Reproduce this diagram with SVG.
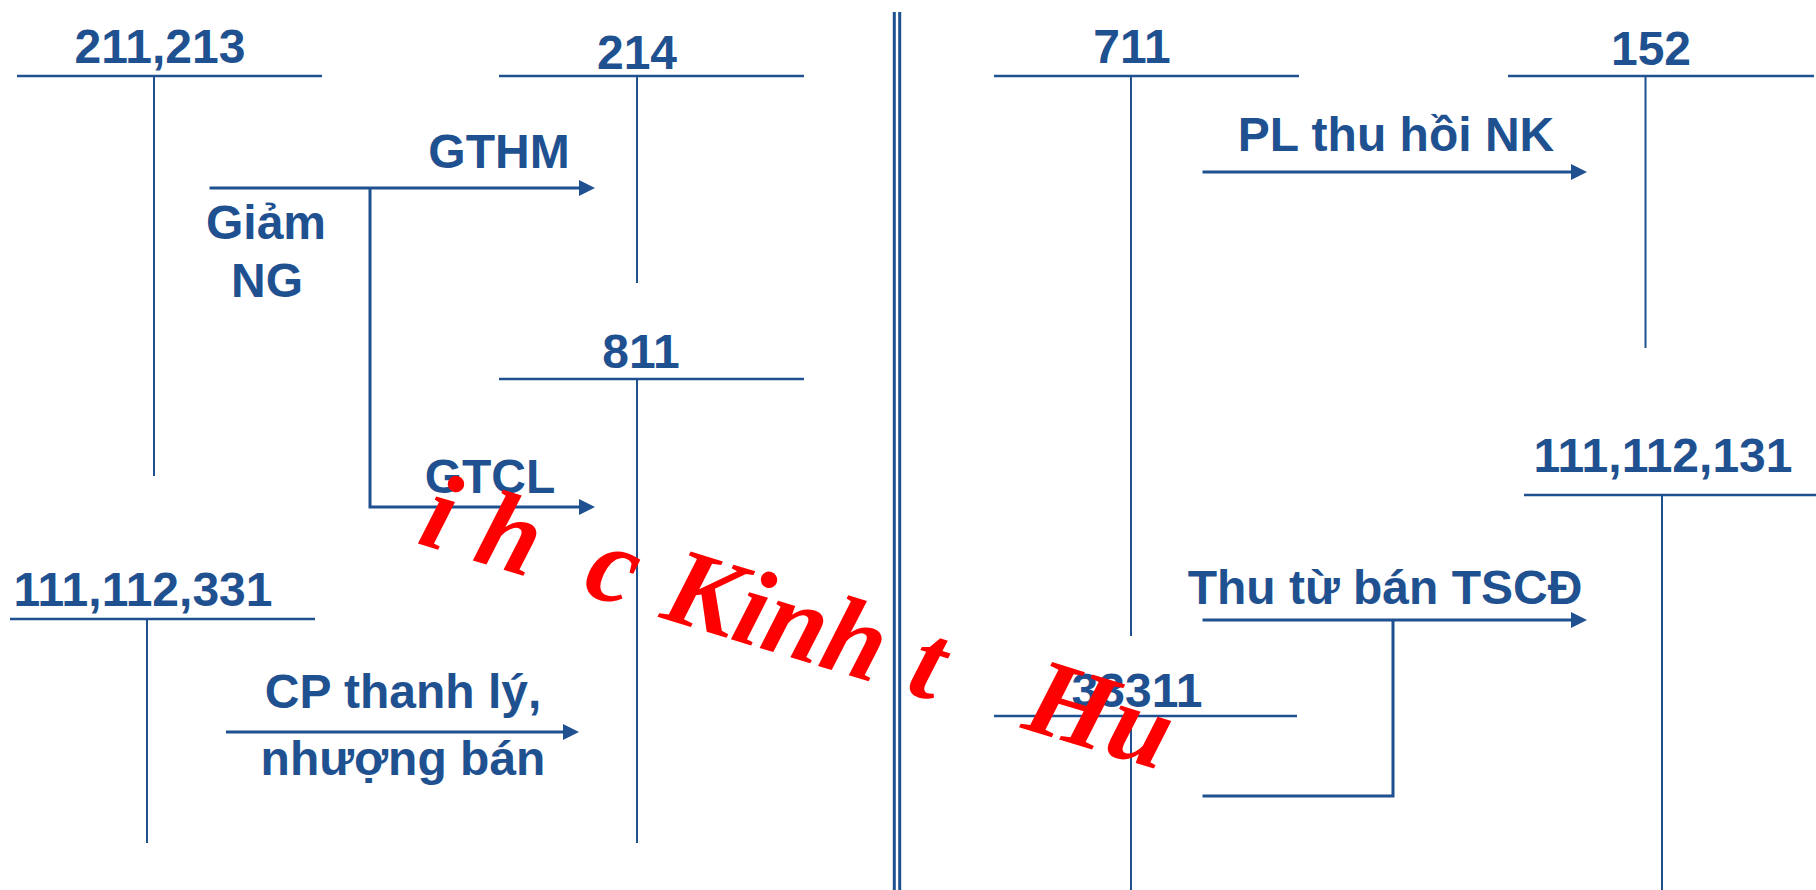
<svg xmlns="http://www.w3.org/2000/svg" width="1816" height="890" viewBox="0 0 1816 890">
<defs>
<style>
.lbl{font-family:"Liberation Sans",Arial,sans-serif;font-weight:bold;font-size:48px;fill:#1F5190;text-anchor:middle}
.hdr{stroke:#1F5190;stroke-width:2.5;fill:none}
.stem{stroke:#1F5190;stroke-width:2;fill:none}
.con{stroke:#1F5190;stroke-width:3;fill:none}
.arr{marker-end:url(#ah)}
.wm{font-family:"Liberation Serif","Times New Roman",serif;font-weight:bold;font-style:italic;font-size:110px;fill:#FF0000}
</style>
<marker id="ah" markerUnits="userSpaceOnUse" markerWidth="16" markerHeight="16" refX="8" refY="8" orient="auto">
<path d="M0,0 L16,8 L0,16 z" fill="#1F5190"/>
</marker>
</defs>
<rect width="1816" height="890" fill="#fff"/>

<g id="divider">
<line class="con" x1="894.3" y1="12" x2="894.3" y2="890"/>
<line class="con" x1="899.7" y1="12" x2="899.7" y2="890"/>
</g>

<g id="acc-211-213">
<text class="lbl" x="160" y="63">211,213</text>
<line class="hdr" x1="17" y1="76" x2="322" y2="76"/>
<line class="stem" x1="154" y1="76" x2="154" y2="476"/>
</g>
<g id="acc-214">
<text class="lbl" x="637" y="69">214</text>
<line class="hdr" x1="499" y1="76" x2="804" y2="76"/>
<line class="stem" x1="637" y1="76" x2="637" y2="283"/>
</g>
<g id="acc-811">
<text class="lbl" x="641" y="368">811</text>
<line class="hdr" x1="499" y1="379" x2="804" y2="379"/>
<line class="stem" x1="637" y1="379" x2="637" y2="843"/>
</g>
<g id="acc-111-112-331">
<text class="lbl" x="143" y="606">111,112,331</text>
<line class="hdr" x1="10" y1="619" x2="315" y2="619"/>
<line class="stem" x1="147" y1="619" x2="147" y2="843"/>
</g>
<g id="acc-711">
<text class="lbl" x="1132" y="63">711</text>
<line class="hdr" x1="994" y1="76" x2="1299" y2="76"/>
<line class="stem" x1="1131" y1="76" x2="1131" y2="636"/>
</g>
<g id="acc-152">
<text class="lbl" x="1651" y="65">152</text>
<line class="hdr" x1="1508" y1="76" x2="1814" y2="76"/>
<line class="stem" x1="1645.5" y1="76" x2="1645.5" y2="348"/>
</g>
<g id="acc-111-112-131">
<text class="lbl" x="1663" y="472">111,112,131</text>
<line class="hdr" x1="1524" y1="495" x2="1816" y2="495"/>
<line class="stem" x1="1662" y1="495" x2="1662" y2="890"/>
</g>
<g id="acc-33311">
<text class="lbl" x="1137" y="707">33311</text>
<line class="hdr" x1="994" y1="716" x2="1297" y2="716"/>
<line class="stem" x1="1131" y1="716" x2="1131" y2="890"/>
</g>

<g id="connectors">
<path class="con arr" d="M209.5,188 H587"/>
<path class="con arr" d="M370,188 V507 H587"/>
<path class="con arr" d="M226,732 H571"/>
<path class="con arr" d="M1202.5,172 H1579"/>
<path class="con arr" d="M1202.5,620 H1579"/>
<path class="con" d="M1202.5,796 H1393 V620"/>
</g>

<g id="labels">
<text class="lbl" x="499" y="168">GTHM</text>
<text class="lbl" x="266" y="239">Giảm</text>
<text class="lbl" x="267" y="297">NG</text>
<text class="lbl" x="490" y="493">GTCL</text>
<text class="lbl" x="403" y="708">CP thanh lý,</text>
<text class="lbl" x="403" y="775">nhượng bán</text>
<text class="lbl" x="1396" y="151">PL thu hồi NK</text>
<text class="lbl" x="1385" y="604">Thu từ bán TSCĐ</text>
</g>

<g id="watermark" transform="translate(400,538) rotate(17)">
<text class="wm" y="0"><tspan x="16">i</tspan><tspan x="74">h</tspan><tspan x="189">c</tspan><tspan x="270">Kinh</tspan><tspan x="527">t</tspan><tspan x="648">Hu</tspan></text>
</g>
</svg>
